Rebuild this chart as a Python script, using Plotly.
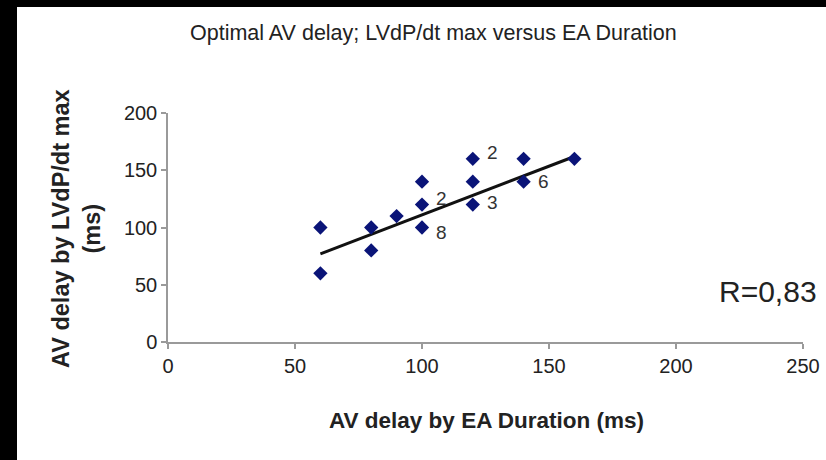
import plotly.graph_objects as go

# Data
ea_duration = [60, 60, 80, 80, 90, 100, 100, 100, 120, 120, 120, 140, 140, 160]
lvdpdt_max = [100, 60, 100, 80, 110, 140, 120, 100, 160, 140, 120, 160, 140, 160]

trend_x = [60, 160]
trend_y = [77, 162]

label_x = [120, 100, 120, 140, 100]
label_y = [160, 120, 120, 140, 100]
label_text = ["2", "2", "3", "6", "8"]
label_dy = [6, 6, 2, 0, -5]

x_ticks = [0, 50, 100, 150, 200, 250]
y_ticks = [0, 50, 100, 150, 200]

W, H = 826, 460
BORDER_L, BORDER_T = 17, 7     # black border of the reference image
# plot area in page pixels: x 168..803, y 113..342
L, R, T, B = 168, W - 803, 113, H - 342
pw, ph = W - L - R, H - T - B

def px_to_paper_x(px):
    return (px - L) / pw

def px_to_paper_y(py):
    return (H - B - py) / ph

FONT = "Liberation Sans, Arial, sans-serif"

fig = go.Figure()

fig.add_trace(go.Scatter(
    x=trend_x, y=trend_y, mode="lines",
    line=dict(color="#111111", width=3),
    showlegend=False, hoverinfo="skip",
))

fig.add_trace(go.Scatter(
    x=ea_duration, y=lvdpdt_max, mode="markers",
    marker=dict(symbol="diamond", size=11, color="#0a1478"),
    showlegend=False,
))

for lx, ly, lt, dy in zip(label_x, label_y, label_text, label_dy):
    fig.add_annotation(
        x=lx, y=ly, text=lt, showarrow=False,
        xanchor="left", yanchor="middle", xshift=12, yshift=dy,
        font=dict(family=FONT, size=19, color="#333333"),
    )

fig.add_annotation(
    xref="paper", yref="paper",
    x=px_to_paper_x(433), y=px_to_paper_y(33),
    text="Optimal AV delay; LVdP/dt max versus EA Duration",
    showarrow=False, xanchor="center", yanchor="middle",
    font=dict(family=FONT, size=21.5, color="#222222"),
)

fig.add_annotation(
    xref="paper", yref="paper",
    x=px_to_paper_x(819), y=px_to_paper_y(291),
    text="R=0,83", showarrow=False, xanchor="right", yanchor="middle",
    font=dict(family=FONT, size=30, color="#222222"),
)

fig.add_annotation(
    xref="paper", yref="paper",
    x=px_to_paper_x(486), y=px_to_paper_y(420),
    text="<b>AV delay by EA Duration (ms)</b>", showarrow=False,
    xanchor="center", yanchor="middle",
    font=dict(family=FONT, size=22.5, color="#222222"),
)

fig.add_annotation(
    xref="paper", yref="paper",
    x=px_to_paper_x(76), y=px_to_paper_y(229),
    text="<b>AV delay by LVdP/dt max<br>(ms)</b>", showarrow=False,
    xanchor="center", yanchor="middle", textangle=-90,
    font=dict(family=FONT, size=23.5, color="#222222"),
)

axis_common = dict(
    showgrid=False, zeroline=False, showline=True, automargin=False,
    linecolor="#9a9a9a", linewidth=1.5,
    ticks="outside", ticklen=5, tickcolor="#9a9a9a", tickwidth=1.5,
    tickfont=dict(family=FONT, size=20, color="#222222"),
)

fig.update_xaxes(range=[0, 250], tickvals=x_ticks, **axis_common)
fig.update_yaxes(range=[0, 200], tickvals=y_ticks, **axis_common)

fig.update_layout(
    width=W, height=H,
    margin=dict(l=L, r=R, t=T, b=B, autoexpand=False),
    paper_bgcolor="white", plot_bgcolor="white",
    showlegend=False,
)

post = (
    "document.documentElement.style.margin='0';"
    "document.documentElement.style.overflow='hidden';"
    "document.body.style.margin='0';"
    "document.body.style.overflow='hidden';"
    "document.body.style.background='white';"
    "function strip(l,t,w,h){var s=document.createElement('div');"
    "s.style.position='fixed';s.style.left=l+'px';s.style.top=t+'px';"
    "s.style.width=w+'px';s.style.height=h+'px';s.style.background='black';"
    "s.style.zIndex='1000';document.body.appendChild(s);}"
    "strip(0,0," + str(W) + "," + str(BORDER_T) + ");"
    "strip(0,0," + str(BORDER_L) + "," + str(H) + ");"
)

fig.write_html(
    "out.html",
    config={"displayModeBar": False, "responsive": False},
    post_script=post,
)
